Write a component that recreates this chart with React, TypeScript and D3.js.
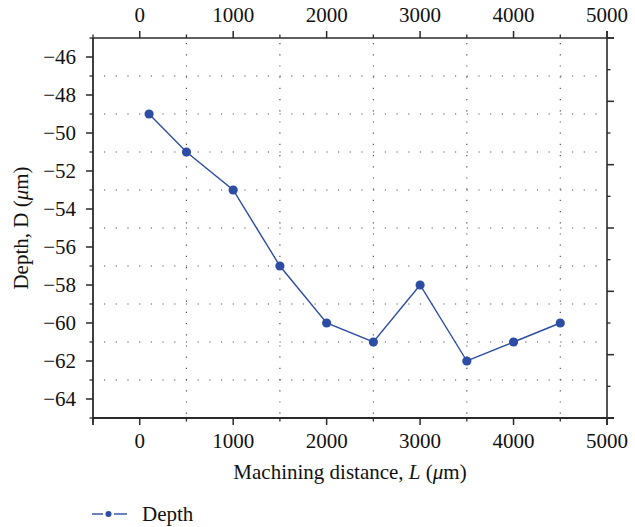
import React from "react";
import * as d3 from "d3";

const distances = [100, 500, 1000, 1500, 2000, 2500, 3000, 3500, 4000, 4500];
const depths = [-49, -51, -53, -57, -60, -61, -58, -62, -61, -60];
const xMajorTicks = [0, 1000, 2000, 3000, 4000, 5000];
const xMinorTicks = [-500, 500, 1500, 2500, 3500, 4500];
const yMajorTicks = [-64, -62, -60, -58, -56, -54, -52, -50, -48, -46];
const yMinorTicks = [-65, -63, -61, -59, -57, -55, -53, -51, -49, -47, -45];
const xGrid = [500, 1500, 2500, 3500, 4500];
const yGrid = [-63, -61, -59, -57, -55, -53, -51, -49, -47];
const rightMajorTicks = [0, 1, 2, 3, 4, 5, 6];
const rightMinorTicks = [0.5, 1.5, 2.5, 3.5, 4.5, 5.5];
const seriesName = "Depth";

const W = 635;
const H = 527;
const L = 93, R = 607, T = 38, B = 418;
const FONT = "'Liberation Serif', 'DejaVu Serif', serif";
const BLUE = "#2c4da3";
const AX = "#2a2a2a";

export default function App() {
  const x = d3.scaleLinear().domain([-500, 5000]).range([L, R]);
  const y = d3.scaleLinear().domain([-65, -45]).range([B, T]);
  const yr = d3.scaleLinear().domain([0, 6]).range([B, T]);
  const line = d3
    .line<number>()
    .x((_, i) => x(distances[i]))
    .y((d) => y(d));
  const fs = 21;
  const major = 7;
  const minor = 3.5;

  return (
    <svg
      width={W}
      height={H}
      style={{ position: "absolute", left: 0, top: 0, background: "#fff" }}
      fontFamily={FONT}
    >
      {/* grid */}
      {xGrid.map((v) => (
        <line key={"gx" + v} x1={x(v)} x2={x(v)} y1={T + 5} y2={B} stroke="#444" strokeWidth={1.1} strokeDasharray="1.2,10" />
      ))}
      {yGrid.map((v) => (
        <line key={"gy" + v} x1={L + 11} x2={R} y1={y(v)} y2={y(v)} stroke="#555" strokeWidth={1.1} strokeDasharray="1.2,10.5" />
      ))}

      {/* axes lines */}
      <line x1={L} x2={R + major} y1={B} y2={B} stroke={AX} strokeWidth={1.8} />
      <line x1={L} x2={R + major} y1={T} y2={T} stroke={AX} strokeWidth={1.6} />
      <line x1={L} x2={L} y1={T} y2={B + major} stroke={AX} strokeWidth={1.8} />
      <line x1={R} x2={R} y1={T - major} y2={B + major} stroke={AX} strokeWidth={1.6} />

      {/* x ticks bottom & top */}
      {xMajorTicks.map((v) => (
        <g key={"xm" + v}>
          <line x1={x(v)} x2={x(v)} y1={B} y2={B + major} stroke={AX} strokeWidth={1.5} />
          <line x1={x(v)} x2={x(v)} y1={T} y2={T - major} stroke={AX} strokeWidth={1.5} />
          <text x={x(v)} y={448} textAnchor="middle" fontSize={fs} fill="#111">{v}</text>
          <text x={x(v)} y={22} textAnchor="middle" fontSize={fs} fill="#111">{v}</text>
        </g>
      ))}
      {xMinorTicks.map((v) => (
        <g key={"xn" + v}>
          <line x1={x(v)} x2={x(v)} y1={B} y2={B + minor} stroke={AX} strokeWidth={1.3} />
          <line x1={x(v)} x2={x(v)} y1={T} y2={T - minor} stroke={AX} strokeWidth={1.3} />
        </g>
      ))}

      {/* y ticks left */}
      {yMajorTicks.map((v) => (
        <g key={"ym" + v}>
          <line x1={L} x2={L - major} y1={y(v)} y2={y(v)} stroke={AX} strokeWidth={1.5} />
          <text x={76} y={y(v)} dy="0.34em" textAnchor="end" fontSize={fs} fill="#111">
            {"\u2212" + Math.abs(v)}
          </text>
        </g>
      ))}
      {yMinorTicks.map((v) => (
        <line key={"yn" + v} x1={L} x2={L - minor} y1={y(v)} y2={y(v)} stroke={AX} strokeWidth={1.3} />
      ))}

      {/* right ticks */}
      {rightMajorTicks.map((v) => (
        <line key={"rm" + v} x1={R} x2={R + major} y1={yr(v)} y2={yr(v)} stroke={AX} strokeWidth={1.5} />
      ))}
      {rightMinorTicks.map((v) => (
        <line key={"rn" + v} x1={R} x2={R + minor} y1={yr(v)} y2={yr(v)} stroke={AX} strokeWidth={1.3} />
      ))}

      {/* series */}
      <path d={line(depths) || ""} fill="none" stroke={BLUE} strokeWidth={1.4} />
      {depths.map((d, i) => (
        <circle key={"p" + i} cx={x(distances[i])} cy={y(d)} r={4.6} fill={BLUE} />
      ))}

      {/* axis titles */}
      <text x={(L + R) / 2} y={479} textAnchor="middle" fontSize={fs} fill="#111">
        Machining distance, <tspan fontStyle="italic">L</tspan> (<tspan fontStyle="italic">μ</tspan>m)
      </text>
      <text
        transform={`translate(28,${(T + B) / 2}) rotate(-90)`}
        textAnchor="middle"
        fontSize={fs}
        fill="#111"
      >
        Depth, D (<tspan fontStyle="italic">μ</tspan>m)
      </text>

      {/* legend */}
      <line x1={92} x2={103} y1={514} y2={514} stroke={BLUE} strokeWidth={1.4} />
      <line x1={114} x2={127} y1={514} y2={514} stroke={BLUE} strokeWidth={1.4} />
      <circle cx={108.5} cy={514} r={3} fill={BLUE} />
      <text x={142} y={521} fontSize={fs} fill="#111">{seriesName}</text>
    </svg>
  );
}
